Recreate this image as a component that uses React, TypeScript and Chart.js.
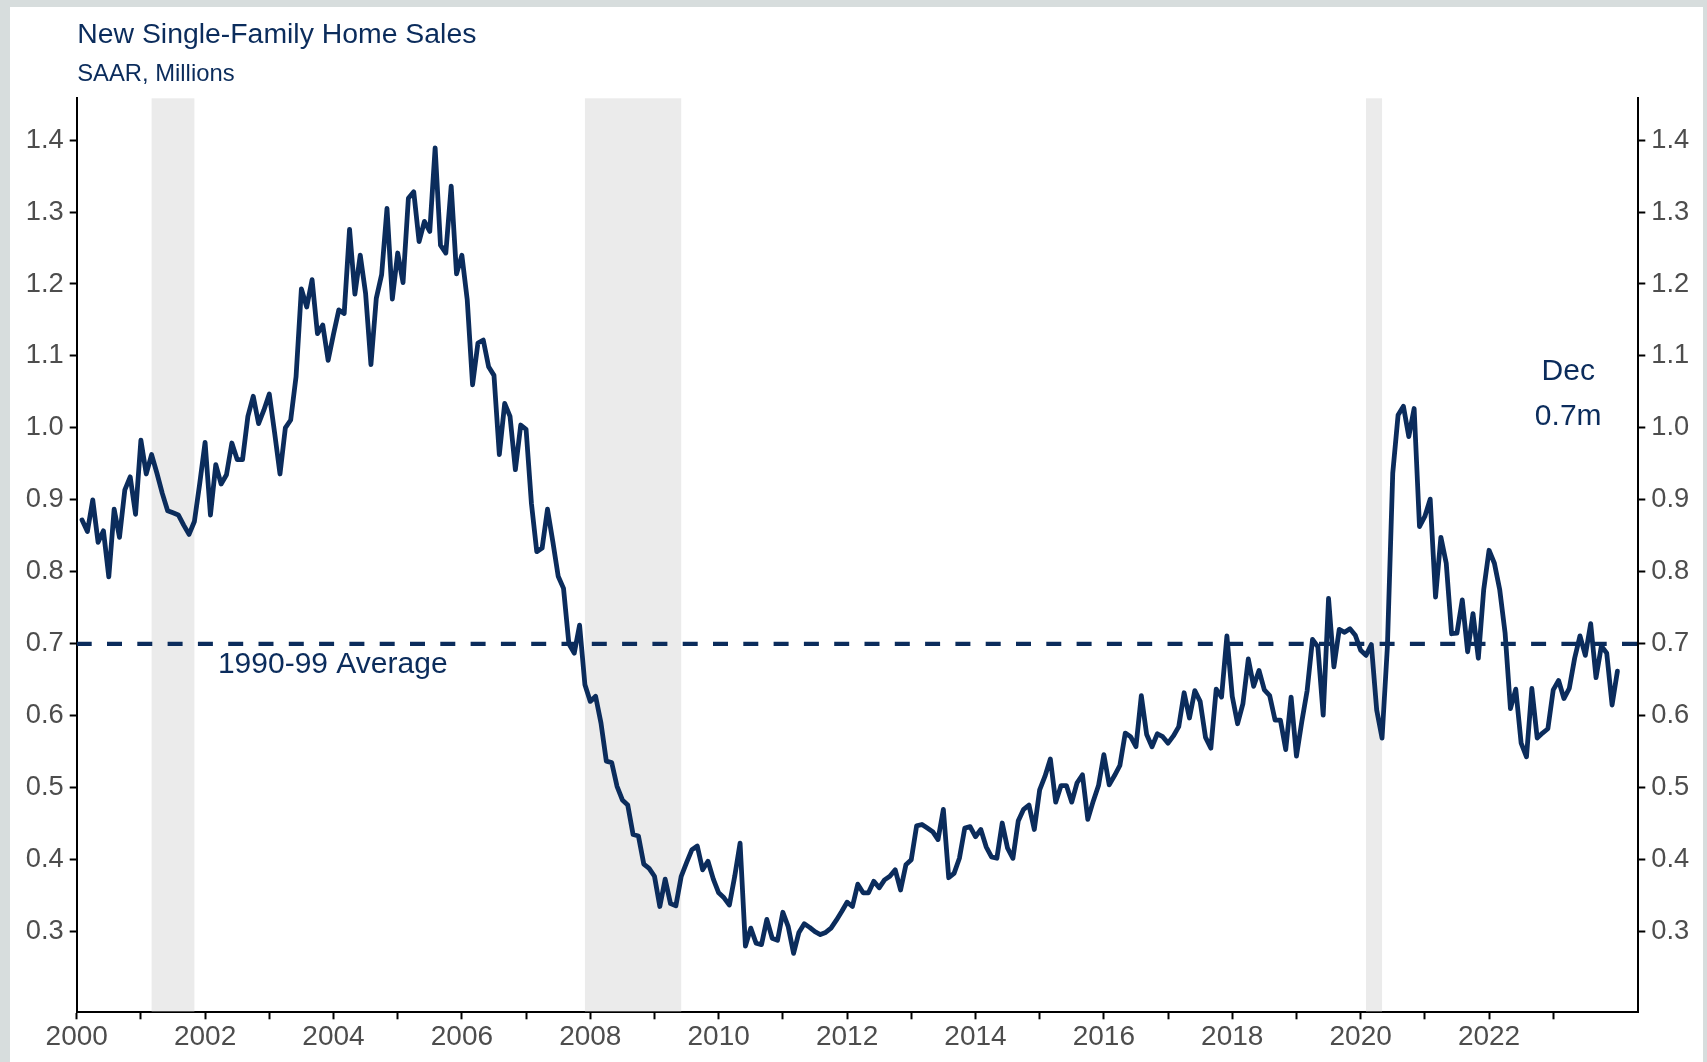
import React, { useEffect, useRef } from "react";
import { Chart, registerables } from "chart.js";

Chart.register(...registerables);

// ---- Data: New single-family home sales, SAAR, millions (monthly, Jan 2000 - Dec 2023)
const SALES_2000 = [0.872, 0.856, 0.9, 0.841, 0.857, 0.793, 0.887, 0.848, 0.914, 0.932, 0.88, 0.983];
const SALES_2001 = [0.936, 0.963, 0.937, 0.909, 0.885, 0.882, 0.879, 0.865, 0.852, 0.87, 0.923, 0.98];
const SALES_2002 = [0.879, 0.949, 0.922, 0.935, 0.979, 0.956, 0.956, 1.016, 1.044, 1.006, 1.025, 1.047];
const SALES_2003 = [0.993, 0.936, 1.0, 1.011, 1.071, 1.193, 1.168, 1.206, 1.131, 1.143, 1.094, 1.13];
const SALES_2004 = [1.164, 1.159, 1.276, 1.186, 1.24, 1.187, 1.088, 1.18, 1.213, 1.305, 1.179, 1.243];
const SALES_2005 = [1.202, 1.319, 1.328, 1.259, 1.287, 1.273, 1.389, 1.254, 1.243, 1.336, 1.214, 1.24];
const SALES_2006 = [1.178, 1.06, 1.118, 1.122, 1.085, 1.073, 0.963, 1.034, 1.016, 0.942, 1.004, 0.998];
const SALES_2007 = [0.895, 0.828, 0.833, 0.887, 0.842, 0.794, 0.777, 0.7, 0.687, 0.726, 0.643, 0.62];
const SALES_2008 = [0.627, 0.59, 0.537, 0.535, 0.502, 0.483, 0.476, 0.435, 0.433, 0.394, 0.388, 0.377];
const SALES_2009 = [0.335, 0.373, 0.339, 0.336, 0.377, 0.396, 0.414, 0.419, 0.386, 0.398, 0.373, 0.354];
const SALES_2010 = [0.347, 0.337, 0.377, 0.423, 0.28, 0.305, 0.284, 0.282, 0.317, 0.291, 0.288, 0.327];
const SALES_2011 = [0.307, 0.27, 0.299, 0.311, 0.306, 0.3, 0.296, 0.299, 0.305, 0.316, 0.328, 0.341];
const SALES_2012 = [0.335, 0.366, 0.354, 0.354, 0.37, 0.361, 0.372, 0.377, 0.386, 0.358, 0.393, 0.4];
const SALES_2013 = [0.447, 0.449, 0.444, 0.439, 0.428, 0.47, 0.375, 0.381, 0.402, 0.444, 0.446, 0.432];
const SALES_2014 = [0.442, 0.418, 0.404, 0.402, 0.451, 0.416, 0.402, 0.454, 0.47, 0.476, 0.442, 0.497];
const SALES_2015 = [0.516, 0.54, 0.48, 0.503, 0.503, 0.48, 0.507, 0.518, 0.456, 0.481, 0.503, 0.546];
const SALES_2016 = [0.504, 0.517, 0.531, 0.576, 0.571, 0.557, 0.628, 0.574, 0.557, 0.575, 0.571, 0.562];
const SALES_2017 = [0.572, 0.585, 0.632, 0.597, 0.635, 0.62, 0.57, 0.555, 0.637, 0.626, 0.711, 0.627];
const SALES_2018 = [0.589, 0.617, 0.679, 0.641, 0.663, 0.636, 0.628, 0.594, 0.594, 0.553, 0.626, 0.544];
const SALES_2019 = [0.592, 0.635, 0.706, 0.696, 0.601, 0.763, 0.668, 0.72, 0.716, 0.721, 0.712, 0.691];
const SALES_2020 = [0.684, 0.699, 0.608, 0.569, 0.696, 0.937, 1.018, 1.03, 0.988, 1.027, 0.863, 0.877];
const SALES_2021 = [0.901, 0.765, 0.848, 0.812, 0.714, 0.715, 0.761, 0.689, 0.742, 0.68, 0.775, 0.83];
const SALES_2022 = [0.812, 0.775, 0.715, 0.61, 0.637, 0.562, 0.543, 0.638, 0.569, 0.576, 0.582, 0.636];
const SALES_2023 = [0.649, 0.624, 0.638, 0.68, 0.711, 0.684, 0.728, 0.653, 0.697, 0.687, 0.615, 0.662];

const SALES_BY_YEAR = [
  SALES_2000, SALES_2001, SALES_2002, SALES_2003, SALES_2004, SALES_2005,
  SALES_2006, SALES_2007, SALES_2008, SALES_2009, SALES_2010, SALES_2011,
  SALES_2012, SALES_2013, SALES_2014, SALES_2015, SALES_2016, SALES_2017,
  SALES_2018, SALES_2019, SALES_2020, SALES_2021, SALES_2022, SALES_2023,
];

const FIRST_YEAR = 2000;
const AVERAGE_1990S = 0.7;
const AVERAGE_LABEL = "1990-99 Average";
const LAST_LABEL = ["Dec", "0.7m"];
const TITLE = "New Single-Family Home Sales";
const SUBTITLE = "SAAR, Millions";

// months since Jan 2000 (start of month)
const RECESSION_START = [14, 95, 241];
const RECESSION_END = [22, 113, 244];

const Y_TICKS = [0.3, 0.4, 0.5, 0.6, 0.7, 0.8, 0.9, 1.0, 1.1, 1.2, 1.3, 1.4];
const X_TICK_YEARS = Array.from({ length: 24 }, (_, k) => FIRST_YEAR + k);
const X_LABEL_YEARS = [2000, 2002, 2004, 2006, 2008, 2010, 2012, 2014, 2016, 2018, 2020, 2022];

const X_MAX_MONTH = 291.9;
const Y_MIN = 0.188;
const Y_MAX = 1.458;

const NAVY = "#0b2c5c";
const GREY_TEXT = "#4d4d4d";
const FONT = "'Liberation Sans', Arial, Helvetica, sans-serif";

export default function App() {
  const canvasRef = useRef<HTMLCanvasElement | null>(null);

  useEffect(() => {
    const canvas = canvasRef.current;
    if (!canvas) return;

    const salesPoints: { x: number; y: number }[] = [];
    SALES_BY_YEAR.forEach((arr, yi) => {
      arr.forEach((v, m) => {
        salesPoints.push({ x: yi * 12 + m + 1, y: v });
      });
    });

    const recessionPlugin = {
      id: "recessions",
      beforeDatasetsDraw(chart: any) {
        const { ctx, chartArea, scales } = chart;
        ctx.save();
        ctx.fillStyle = "#ebebeb";
        RECESSION_START.forEach((s, k) => {
          const x0 = scales.x.getPixelForValue(s);
          const x1 = scales.x.getPixelForValue(RECESSION_END[k]);
          ctx.fillRect(x0, chartArea.top, x1 - x0, chartArea.bottom - chartArea.top - 1);
        });
        ctx.restore();
      },
    };

    const textPlugin = {
      id: "texts",
      afterDraw(chart: any) {
        const { ctx, chartArea, scales } = chart;
        ctx.save();
        ctx.fillStyle = NAVY;
        ctx.textBaseline = "alphabetic";
        ctx.textAlign = "left";
        ctx.font = `28.4px ${FONT}`;
        ctx.fillText(TITLE, chartArea.left + 0.5, 43.3);
        ctx.font = `23.8px ${FONT}`;
        ctx.fillText(SUBTITLE, chartArea.left + 0.5, 81);

        ctx.font = `30px ${FONT}`;
        const ax = scales.x.getPixelForValue(26.4);
        const ay = scales.y.getPixelForValue(AVERAGE_1990S) + 29;
        ctx.fillText(AVERAGE_LABEL, ax, ay);

        ctx.textAlign = "center";
        const dx = scales.x.getPixelForValue(278.8);
        ctx.fillText(LAST_LABEL[0], dx, scales.y.getPixelForValue(1.0665));
        ctx.fillText(LAST_LABEL[1], dx, scales.y.getPixelForValue(1.004));
        ctx.restore();
      },
    };

    const yTickCfg = {
      font: { family: FONT, size: 27.3 },
      color: GREY_TEXT,
      padding: 6,
      callback: (v: any) => Number(v).toFixed(1),
    };
    const gridCfg = {
      display: true,
      drawOnChartArea: false,
      drawTicks: true,
      tickLength: 7,
      tickWidth: 2,
      tickColor: "#000000",
    };
    const borderCfg = { display: true, color: "#000000", width: 2 };

    const chart = new Chart(canvas, {
      type: "line",
      data: {
        datasets: [
          {
            label: "New single-family home sales",
            data: salesPoints,
            borderColor: NAVY,
            borderWidth: 4.8,
            pointRadius: 0,
            tension: 0,
            borderJoinStyle: "round",
            borderCapStyle: "round",
            fill: false,
          },
          {
            label: AVERAGE_LABEL,
            data: [
              { x: 0, y: AVERAGE_1990S },
              { x: X_MAX_MONTH, y: AVERAGE_1990S },
            ],
            borderColor: NAVY,
            borderWidth: 4.2,
            borderDash: [15, 15.3],
            pointRadius: 0,
            fill: false,
          },
        ],
      },
      options: {
        responsive: false,
        animation: false,
        devicePixelRatio: 1,
        layout: { padding: { top: 98.3, left: 0, right: 0, bottom: 0 } },
        plugins: {
          legend: { display: false },
          tooltip: { enabled: false },
          title: { display: false },
        },
        scales: {
          x: {
            type: "linear",
            min: 0,
            max: X_MAX_MONTH,
            grid: gridCfg,
            border: borderCfg,
            afterBuildTicks: (s: any) => {
              s.ticks = X_TICK_YEARS.map((yr) => ({ value: (yr - FIRST_YEAR) * 12 }));
            },
            afterFit: (s: any) => {
              s.height = 1062 - 1012.3;
            },
            ticks: {
              autoSkip: false,
              maxRotation: 0,
              font: { family: FONT, size: 28 },
              color: GREY_TEXT,
              padding: 1.5,
              callback: (v: any) => {
                const yr = FIRST_YEAR + Math.round(Number(v) / 12);
                return X_LABEL_YEARS.includes(yr) ? String(yr) : "";
              },
            },
          },
          y: {
            type: "linear",
            position: "left",
            min: Y_MIN,
            max: Y_MAX,
            grid: gridCfg,
            border: borderCfg,
            afterBuildTicks: (s: any) => {
              s.ticks = Y_TICKS.map((v) => ({ value: v }));
            },
            afterFit: (s: any) => {
              s.width = 76.7;
            },
            ticks: yTickCfg,
          },
          y2: {
            type: "linear",
            position: "right",
            min: Y_MIN,
            max: Y_MAX,
            grid: gridCfg,
            border: borderCfg,
            afterBuildTicks: (s: any) => {
              s.ticks = Y_TICKS.map((v) => ({ value: v }));
            },
            afterFit: (s: any) => {
              s.width = 1707 - 1638.3;
            },
            ticks: yTickCfg,
          },
        },
      },
      plugins: [recessionPlugin, textPlugin],
    } as any);

    return () => {
      chart.destroy();
    };
  }, []);

  return (
    <div
      style={{
        position: "absolute",
        left: 0,
        top: 0,
        width: 1707,
        height: 1062,
        background: "#d7dddd",
        overflow: "hidden",
      }}
    >
      <div
        style={{
          position: "absolute",
          left: 10,
          top: 7,
          width: 1693,
          height: 1055,
          background: "#ffffff",
        }}
      />
      <canvas
        ref={canvasRef}
        width={1707}
        height={1062}
        style={{ position: "absolute", left: 0, top: 0, width: 1707, height: 1062 }}
      />
    </div>
  );
}
